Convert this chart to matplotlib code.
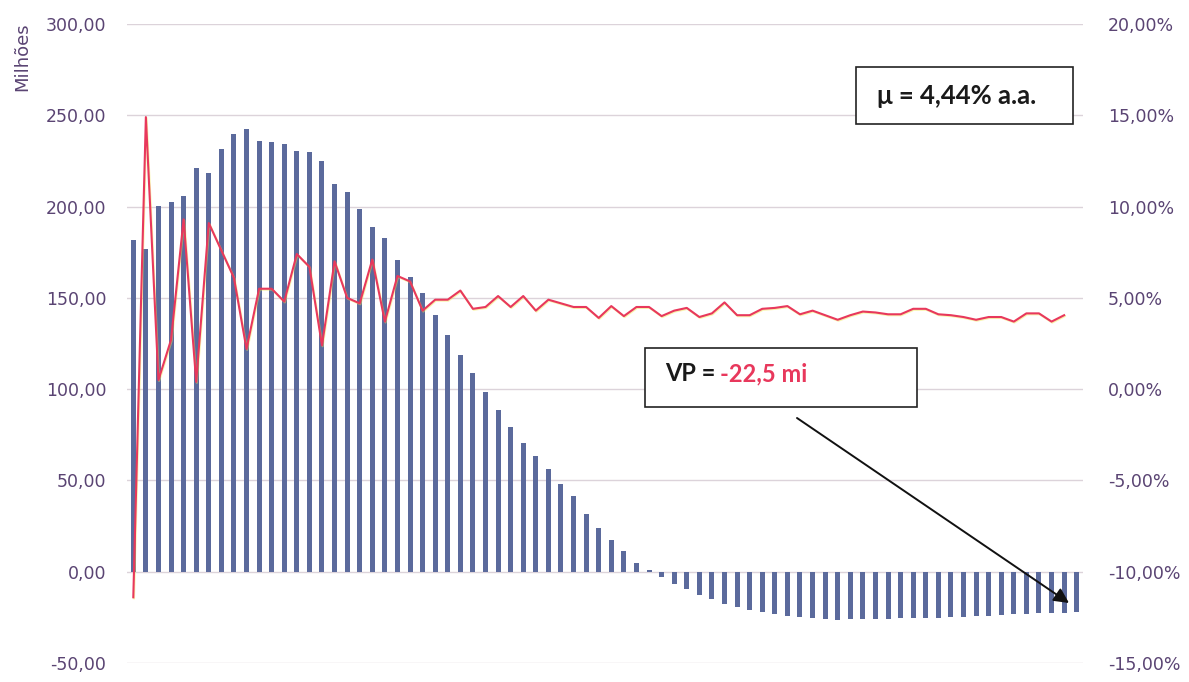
import matplotlib
matplotlib.use("Agg")
import matplotlib.pyplot as plt
import matplotlib.patheffects as pe
from matplotlib.patches import Rectangle
from matplotlib.ticker import FuncFormatter

# Cash balance per period (millions) and yearly return (%)
saldo = [
    181.9, 176.5, 200.4, 202.3, 206.0, 221.1, 218.6, 231.4, 239.7, 242.5,
    235.8, 235.3, 234.1, 230.5, 230.0, 224.7, 212.4, 207.8, 198.7, 189.0,
    182.6, 170.5, 161.6, 152.5, 140.7, 129.7, 118.8, 108.8, 98.3, 88.4,
    79.3, 70.5, 63.2, 56.0, 48.3, 41.4, 31.6, 23.7, 17.4, 11.4,
    4.5, 0.8, -3.1, -6.7, -9.7, -12.8, -15.0, -17.7, -19.1, -20.9,
    -22.3, -23.3, -24.1, -24.6, -25.2, -25.9, -26.2, -26.1, -25.7, -25.7,
    -25.7, -25.5, -25.5, -25.3, -25.2, -25.0, -24.6, -24.4, -24.0, -23.9,
    -23.3, -23.1, -22.8, -22.6, -22.5, -21.8,
]
retorno = [
    -11.4, 14.9, 0.5, 2.7, 9.3, 0.4, 9.1, 7.6, 6.1, 2.2,
    5.5, 5.5, 4.8, 7.4, 6.7, 2.4, 7.0, 5.0, 4.7, 7.1,
    3.7, 6.2, 5.9, 4.3, 4.9, 4.9, 5.4, 4.4, 4.5, 5.1,
    4.5, 5.1, 4.3, 4.9, 4.7, 4.5, 4.5, 3.9, 4.55, 4.0,
    4.5, 4.5, 4.0, 4.3, 4.45, 3.95, 4.15, 4.75, 4.05, 4.05,
    4.4, 4.45, 4.55, 4.1, 4.3, 4.05, 3.8, 4.05, 4.25, 4.2,
    4.1, 4.1, 4.4, 4.4, 4.1, 4.05, 3.95, 3.8, 3.95, 3.95,
    3.7, 4.15, 4.15, 3.7, 4.05,
]
left_ticks = [-50, 0, 50, 100, 150, 200, 250, 300]
right_ticks = [-15, -10, -5, 0, 5, 10, 15, 20]
media_txt = "\u03bc = 4,44% a.a."
vp_label = "VP = "
vp_valor = "-22,5 mi"

W, H = 1189, 682
BAR = "#5B6A9C"
LINE = "#E8385C"
TXT = "#5A4473"
GRID = "#DCD3DA"


def fx(px):
    return px / W


def fy(py):
    return 1 - py / H


fig = plt.figure(figsize=(W / 100, H / 100), dpi=100)
fig.patch.set_facecolor("white")
ax = fig.add_axes([fx(127), fy(663), (1083 - 127) / W, (663 - 24) / H])
ax2 = ax.twinx()

x_bar = list(range(len(saldo)))
x_line = list(range(len(retorno)))

ax.bar(x_bar, saldo, width=0.4, color=BAR, zorder=2)
ax.set_xlim(-0.5, len(saldo) - 0.5)
ax.set_ylim(left_ticks[0], left_ticks[-1])
ax.set_yticks(left_ticks)
ax.yaxis.grid(True, color=GRID, lw=1.0, zorder=0)
ax.set_axisbelow(True)
ax.set_xticks([])
ax.yaxis.set_major_formatter(
    FuncFormatter(lambda v, p: f"{v:.2f}".replace(".", ",")))

ax2.plot(x_line, retorno, color=LINE, lw=1.5, zorder=3,
         path_effects=[pe.SimpleLineShadow(offset=(0.5, -0.7),
                                           shadow_color="#F2E64A", alpha=0.45),
                       pe.Normal()])
ax2.set_ylim(right_ticks[0], right_ticks[-1])
ax2.set_yticks(right_ticks)
ax2.yaxis.set_major_formatter(
    FuncFormatter(lambda v, p: f"{v:.2f}%".replace(".", ",")))

for a in (ax, ax2):
    for s in a.spines.values():
        s.set_visible(False)
    a.tick_params(length=0, labelsize=12.5, labelcolor=TXT)
ax.tick_params(axis="y", pad=15)
ax2.tick_params(axis="y", pad=18)

fig.text(fx(22), fy(57), "Milhões", rotation=90, ha="center", va="center",
         fontsize=13, color=TXT)

# Average return box
fig.patches.append(Rectangle((fx(856), fy(124)), (1073 - 856) / W,
                             (124 - 67) / H, transform=fig.transFigure,
                             facecolor="white", edgecolor="#222222",
                             lw=1.2, zorder=5))
fig.text(fx(877), fy(96), media_txt, ha="left", va="center",
         fontsize=18.5, fontweight="bold", family=["Lato", "DejaVu Sans"],
         color="#1a1a1a", zorder=6)

# Present value box
fig.patches.append(Rectangle((fx(645), fy(407)), (917 - 645) / W,
                             (407 - 348) / H, transform=fig.transFigure,
                             facecolor="white", edgecolor="#222222",
                             lw=1.2, zorder=5))
fig.text(fx(665), fy(374), vp_label, ha="left", va="center",
         fontsize=17, fontweight="bold", family=["Lato", "DejaVu Sans"],
         color="#1a1a1a", zorder=6)
fig.text(fx(720), fy(374), vp_valor, ha="left", va="center",
         fontsize=17, fontweight="bold", family=["Lato", "DejaVu Sans"],
         color=LINE, zorder=6)

ax.annotate("", xy=(fx(1069), fy(603)), xycoords="figure fraction",
            xytext=(fx(797), fy(418)), textcoords="figure fraction",
            arrowprops=dict(arrowstyle="-|>,head_length=0.9,head_width=0.45",
                            color="#111111", lw=1.4, shrinkA=0, shrinkB=0),
            zorder=7, annotation_clip=False)

fig.savefig("out.png", dpi=100, facecolor="white")
